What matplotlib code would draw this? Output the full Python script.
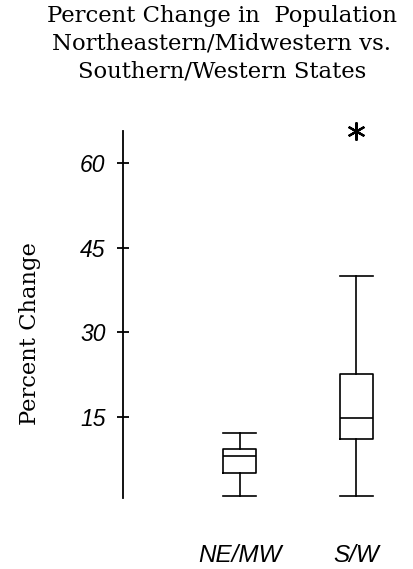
import matplotlib
matplotlib.use("Agg")
import matplotlib.pyplot as plt

# Data
categories = ["NE/MW", "S/W"]
whisker_low = [1.0, 1.0]
q1 = [5.0, 11.1]
median = [8.1, 14.9]
q3 = [9.3, 22.7]
whisker_high = [12.1, 40.0]
outliers = [[], [65.7]]
yticks = [15, 30, 45, 60]

W, H = 413, 569
fig = plt.figure(figsize=(W / 100, H / 100), dpi=100)
left_px, right_px, top_px, bot_px = 123, 405, 130.7, 498.3
ax = fig.add_axes([left_px / W, 1 - bot_px / H, (right_px - left_px) / W, (bot_px - top_px) / H])

stats = []
for i, c in enumerate(categories):
    stats.append(dict(label=c, whislo=whisker_low[i], q1=q1[i], med=median[i],
                      q3=q3[i], whishi=whisker_high[i], fliers=outliers[i]))

lw = 1.2
res = ax.bxp(stats, positions=[1, 2], widths=0.285, capwidths=0.285, showfliers=True,
             boxprops=dict(color="black", linewidth=lw),
             whiskerprops=dict(color="black", linewidth=lw),
             capprops=dict(color="black", linewidth=lw),
             medianprops=dict(color="black", linewidth=lw),
             flierprops=dict(marker=(6, 2, 0), markersize=13, markeredgecolor="black",
                             markeredgewidth=1.6, markerfacecolor="black"))
for f in res["fliers"]:
    f.set_clip_on(False)

unit_px = 116.7
ax.set_xlim(0, (right_px - left_px) / unit_px)
ax.set_ylim(0.6, 65.7)

for s in ["top", "right", "bottom"]:
    ax.spines[s].set_visible(False)
ax.spines["left"].set_linewidth(1.3)

ax.set_yticks(yticks)
ax.set_yticklabels([str(v) for v in yticks], fontfamily="Liberation Sans",
                   fontstyle="italic", fontsize=16.5)
ax.tick_params(axis="y", direction="inout", length=9, width=1.3, pad=8)
ax.tick_params(axis="x", length=0, pad=33)
ax.set_xticks([1, 2])
ax.set_xticklabels(categories, fontfamily="Liberation Sans", fontstyle="italic", fontsize=17.5)

fig.text(222 / W, 1 - 44 / H,
         "Percent Change in  Population\nNortheastern/Midwestern vs.\nSouthern/Western States",
         ha="center", va="center", fontfamily="DejaVu Serif", fontsize=16.4,
         linespacing=1.33)
fig.text(30 / W, 1 - 334 / H, "Percent Change", rotation=90, ha="center", va="center",
         fontfamily="DejaVu Serif", fontsize=16.3)

fig.savefig("out.png", dpi=100)
